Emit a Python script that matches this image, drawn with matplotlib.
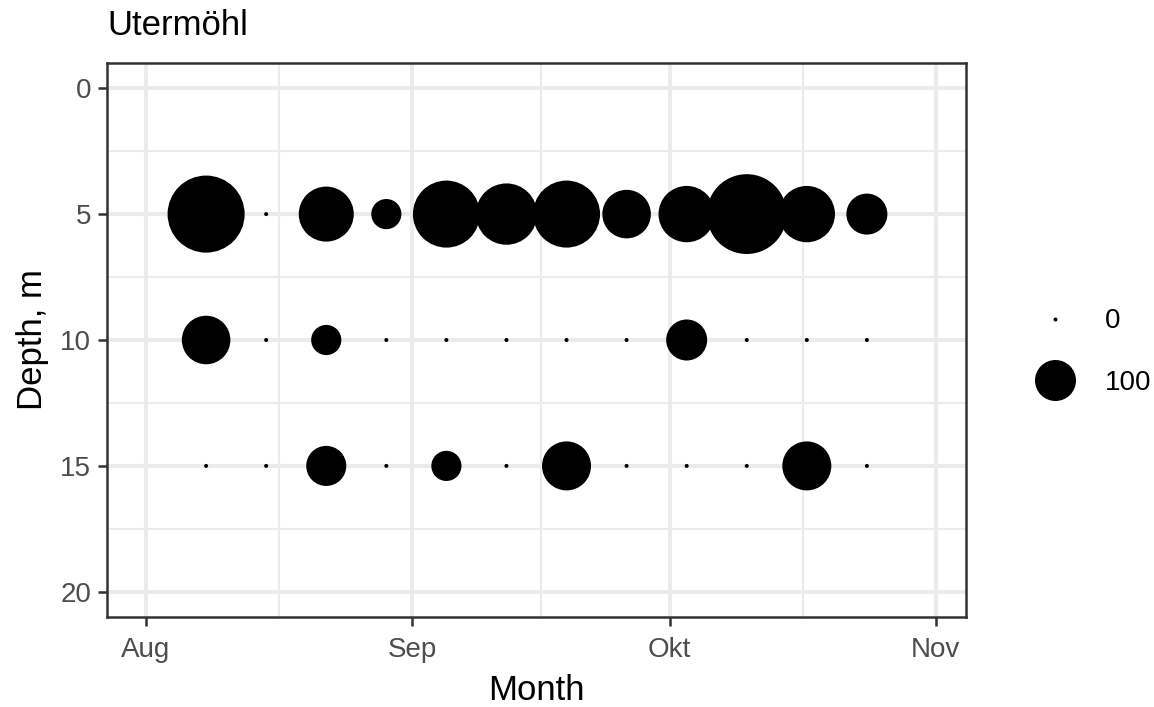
import numpy as np
import matplotlib
matplotlib.use("Agg")
import matplotlib.pyplot as plt
import matplotlib.dates as mdates
from matplotlib.lines import Line2D
import datetime as dt

plt.rcParams['font.family'] = ['Liberation Sans', 'DejaVu Sans']

# weekly sampling dates
dates = [dt.date(2020, 8, 8), dt.date(2020, 8, 15), dt.date(2020, 8, 22),
         dt.date(2020, 8, 29), dt.date(2020, 9, 5), dt.date(2020, 9, 12),
         dt.date(2020, 9, 19), dt.date(2020, 9, 26), dt.date(2020, 10, 3),
         dt.date(2020, 10, 10), dt.date(2020, 10, 17), dt.date(2020, 10, 24)]
depths = [5, 10, 15]

# abundance per depth, one value per date
abund_5m = [390, 0, 190, 50, 290, 240, 290, 145, 200, 420, 200, 100]
abund_10m = [145, 0, 50, 0, 0, 0, 0, 0, 100, 0, 0, 0]
abund_15m = [0, 0, 95, 0, 50, 0, 148, 0, 0, 0, 148, 0]

month_ticks = [dt.date(2020, 8, 1), dt.date(2020, 9, 1),
               dt.date(2020, 10, 1), dt.date(2020, 11, 1)]
month_labels = ['Aug', 'Sep', 'Okt', 'Nov']
legend_breaks = [0, 100]

DPI = 100
TICK_FS = 20
LABEL_FS = 25


def size_pt(v):
    # area scale: diameter grows with sqrt of the value
    d_px = 4 + 3.7 * np.sqrt(np.asarray(v, dtype=float))
    return d_px * 72.0 / DPI


fig = plt.figure(figsize=(11.54, 7.07), dpi=DPI)
W, H = 1154, 707
ax = fig.add_axes([107 / W, 1 - 617 / H, (966 - 107) / W, (617 - 63) / H])

x = mdates.date2num(dates)
for depth, vals in zip(depths, [abund_5m, abund_10m, abund_15m]):
    ax.scatter(x, np.full(len(x), depth), s=size_pt(vals) ** 2,
               color='black', linewidths=0, zorder=3)

# axes limits: Aug 1 - Oct 31 with 5% expansion, depth reversed
x0 = mdates.date2num(dt.date(2020, 8, 1))
x1 = mdates.date2num(dt.date(2020, 10, 31))
pad = 0.05 * (x1 - x0)
ax.set_xlim(x0 - pad, x1 + pad)
ax.set_ylim(21, -1)

mt = mdates.date2num(month_ticks)
ax.set_xticks(mt)
ax.set_xticklabels(month_labels)
ax.set_xticks((mt[:-1] + mt[1:]) / 2, minor=True)
ax.set_yticks([0, 5, 10, 15, 20])
ax.set_yticks([2.5, 7.5, 12.5, 17.5], minor=True)

ax.grid(which='major', color='#EBEBEB', linewidth=2.9, zorder=0)
ax.grid(which='minor', color='#EBEBEB', linewidth=1.45, zorder=0)
ax.set_axisbelow(True)
for sp in ax.spines.values():
    sp.set_color('#333333')
    sp.set_linewidth(1.8)
ax.tick_params(which='major', color='#333333', width=1.8, length=6.5,
               labelsize=TICK_FS, labelcolor='#4D4D4D')
ax.tick_params(axis='x', which='major', pad=8)
ax.tick_params(axis='y', which='major', pad=5)
ax.tick_params(which='minor', length=0)

ax.set_xlabel('Month', fontsize=LABEL_FS, labelpad=8)
ax.set_ylabel('Depth, m', fontsize=LABEL_FS, labelpad=8)
fig.text(107 / W, 1 - 35 / H, 'Utermöhl', fontsize=LABEL_FS, va='baseline',
         ha='left')

handles = [Line2D([], [], marker='o', ls='', color='black', markeredgewidth=0,
                  markersize=size_pt(b)) for b in legend_breaks]
ax.legend(handles, [str(b) for b in legend_breaks], loc='center left',
          bbox_to_anchor=(1027 / W, 1 - 352 / H), bbox_transform=fig.transFigure,
          frameon=False, fontsize=TICK_FS, handlelength=2.0, handletextpad=0.8,
          labelspacing=1.28, borderpad=0, borderaxespad=0)

fig.savefig('out.png', dpi=DPI)
